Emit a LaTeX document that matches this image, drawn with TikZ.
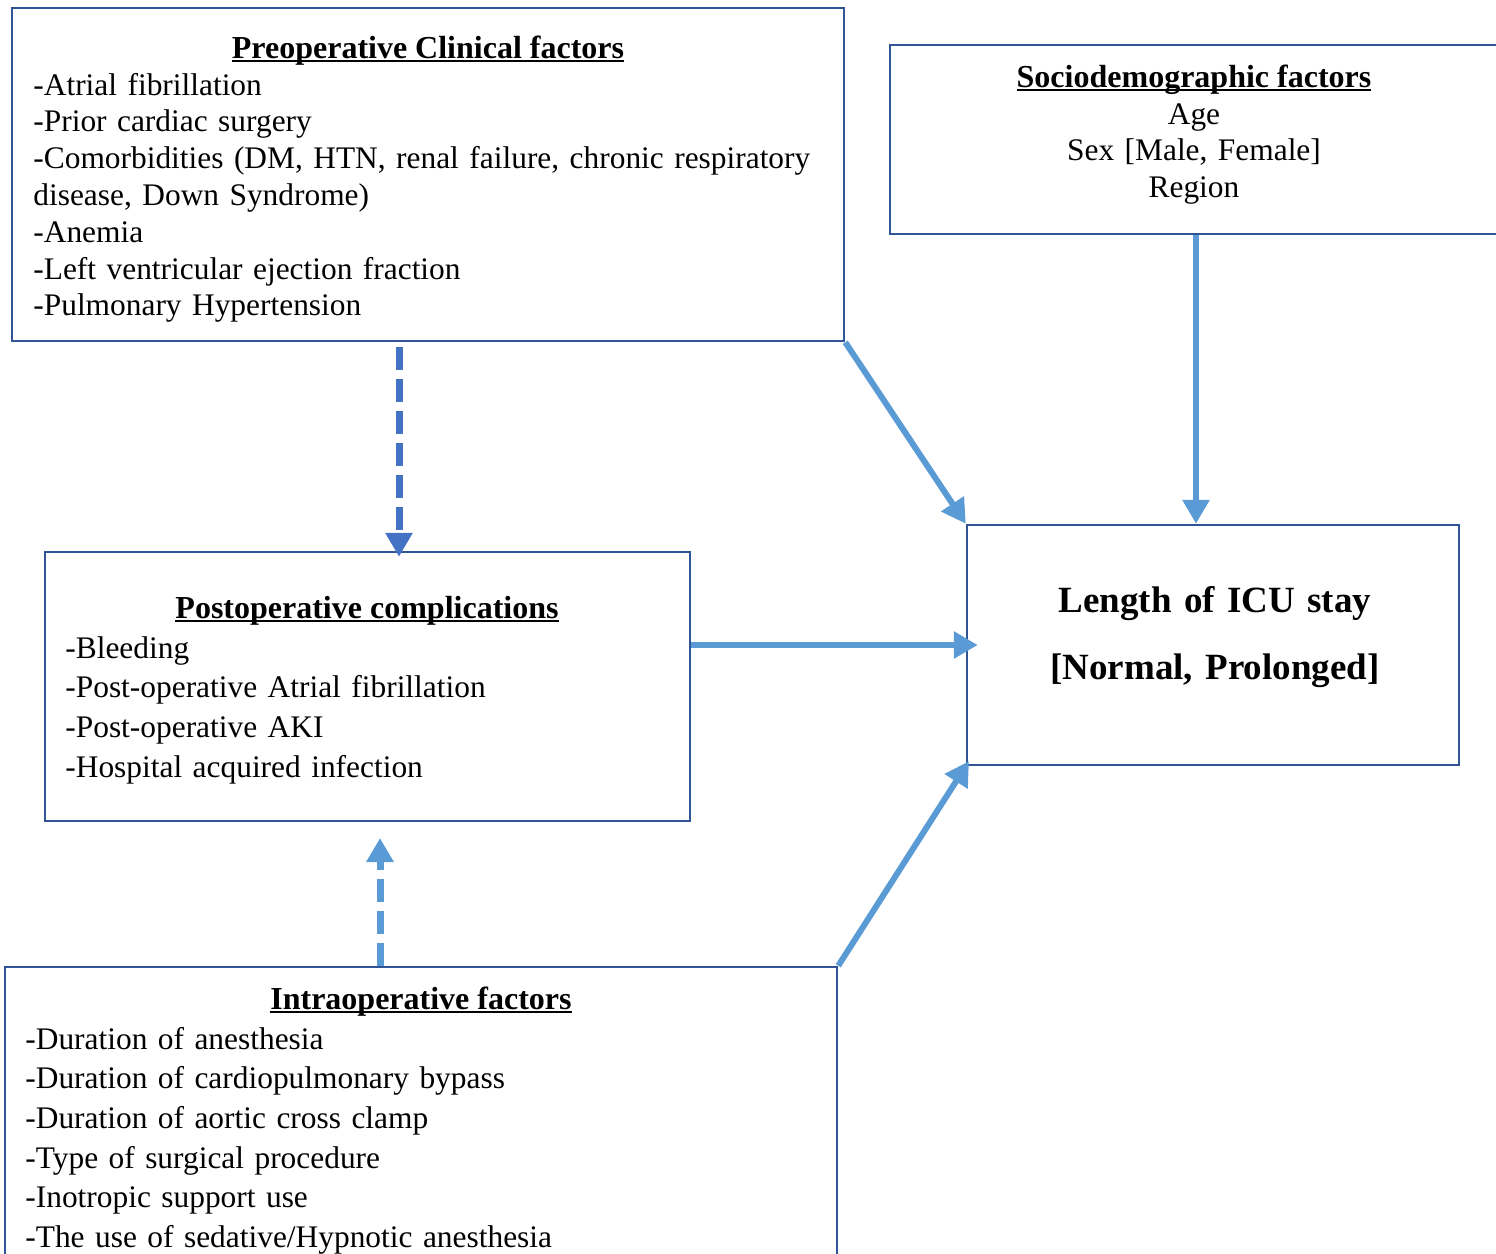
\documentclass[tikz,border=0pt]{standalone}
\usepackage{fontspec}
\setmainfont{Liberation Serif}
\usetikzlibrary{arrows.meta,positioning,fit,calc}
\definecolor{boxblue}{RGB}{47,85,151}
\definecolor{linkblue}{RGB}{91,155,213}
\definecolor{dashblue}{RGB}{68,114,196}
\newcommand{\ulhead}[1]{\setbox0\hbox{\fontsize{16}{18.4}\selectfont\bfseries #1}\rlap{\rule[-1.8pt]{\wd0}{1pt}}\box0}

\begin{document}
\begin{tikzpicture}[x=0.5pt,y=-0.5pt,
  box/.style={draw=boxblue,line width=1.25pt,inner sep=0pt},
  arrow/.style={-{Triangle[length=12pt,width=13pt]},line width=3pt,linkblue},
  dasharrow/.style={arrow,line width=3.5pt,dash pattern=on 11.5pt off 4.5pt},
  boxtitle/.style={anchor=base,inner sep=0pt},
  itemlist/.style={anchor=base west,inner sep=0pt,text width=420pt,align=left},
  every node/.style={font=\fontsize{15.7}{18.4}\selectfont}]

  \clip (0,0) rectangle (1496,1254);

  % Boxes
  \node[box,fit={(12,8) (844,341)}] (pre) {};
  \node[box,fit={(890,45) (1502,234)}] (soc) {};
  \node[box,fit={(967,525) (1459,765)}] (los) {};
  \node[box,fit={(45,552) (690,821)}] (post) {};
  \node[box,fit={(5,967) (837,1270)}] (intra) {};

  % Preoperative clinical factors
  \node[boxtitle] (preTitle) at (428,58) {\ulhead{Preoperative Clinical factors}};
  \node[itemlist] (preItems) at (33,95)
    {-Atrial fibrillation\\
     -Prior cardiac surgery\\
     -Comorbidities (DM, HTN, renal failure, chronic respiratory\\
     disease, Down Syndrome)\\
     -Anemia\\
     -Left ventricular ejection fraction\\
     -Pulmonary Hypertension};

  % Sociodemographic factors
  \node[boxtitle] (socTitle) at (1194,87) {\ulhead{Sociodemographic factors}};
  \node[boxtitle,text width=300pt,align=center] (socItems) at (1194,124)
    {Age\\
     Sex [Male, Female]\\
     Region};

  % Outcome
  \node[boxtitle,text width=300pt,align=center,
        font=\fontsize{18.5}{33.5}\selectfont\bfseries] (losText) at (1215,612)
    {Length of ICU stay\\\relax
     [Normal, Prolonged]};

  % Postoperative complications
  \node[boxtitle] (postTitle) at (367,618) {\ulhead{Postoperative complications}};
  \node[itemlist,font=\fontsize{15.7}{19.85}\selectfont] (postItems) at (65,658)
    {-Bleeding\\
     -Post-operative Atrial fibrillation\\
     -Post-operative AKI\\
     -Hospital acquired infection};

  % Intraoperative factors
  \node[boxtitle] (intraTitle) at (421,1009) {\ulhead{Intraoperative factors}};
  \node[itemlist,font=\fontsize{15.7}{19.85}\selectfont] (intraItems) at (25,1049)
    {-Duration of anesthesia\\
     -Duration of cardiopulmonary bypass\\
     -Duration of aortic cross clamp\\
     -Type of surgical procedure\\
     -Inotropic support use\\
     -The use of sedative/Hypnotic anesthesia};

  % Arrows into the outcome
  \draw[arrow] (pre.south east) -- (los.north west);
  \draw[arrow] (soc.south) -- (soc.south |- los.north);
  \draw[arrow,shorten >=-6pt] (post.east |- los.west) -- (los.west);
  \draw[arrow,shorten >=-3pt] (intra.north east) -- (los.south west);

  % Dashed links
  \coordinate (preDash) at (399,347);
  \draw[dasharrow,dashblue,shorten >=-3pt] (preDash) -- (preDash |- post.north);
  \coordinate (intraDash) at (380,838);
  \draw[dasharrow] (intra.north -| intraDash) -- (intraDash);

\end{tikzpicture}
\end{document}
